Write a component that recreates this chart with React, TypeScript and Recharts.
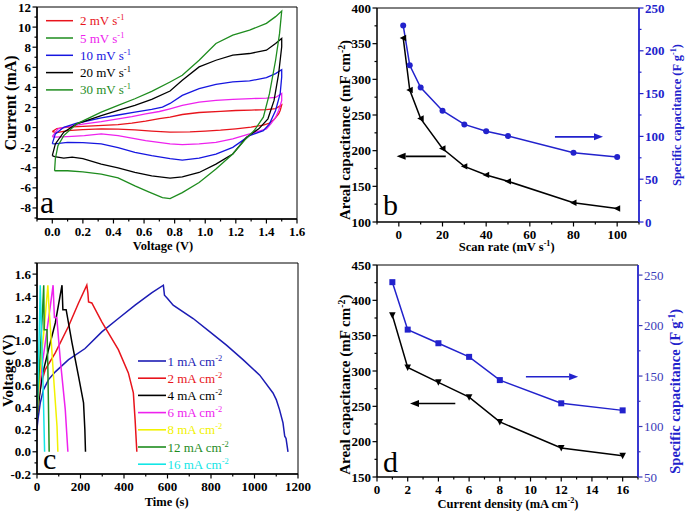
import React from 'react'
import { LineChart, Line, XAxis, YAxis, ReferenceArea, ReferenceLine } from 'recharts'

const SERIF = '"Liberation Serif", "Times New Roman", serif'

const RED = '#e8141c'
const GREEN = '#1e8c1e'
const MAGENTA = '#ee22ee'
const BLUE = '#1616e0'
const NAVY = '#1c1cb4'
const YELLOW = '#f2f200'
const CYAN = '#12e6e6'
const PBLUE = '#2222cc'

// (a) CV loops, [voltage (V), current (mA)] - anodic sweep then back
const cv2mV = [[0.0,-0.4],[0.03,-0.1],[0.1,0.05],[0.2,0.12],[0.3,0.2],[0.43,0.3],[0.52,0.45],[0.61,0.64],[0.7,0.9],[0.77,1.04],[0.85,1.3],[0.96,1.5],[1.1,1.62],[1.2,1.7],[1.3,1.74],[1.4,1.78],[1.46,1.88],[1.5,2.25],[1.49,1.7],[1.48,1.35],[1.45,0.8],[1.42,0.45],[1.38,0.25],[1.3,0.05],[1.2,-0.12],[1.1,-0.26],[1.0,-0.35],[0.9,-0.42],[0.77,-0.46],[0.65,-0.35],[0.54,-0.23],[0.43,-0.15],[0.32,-0.13],[0.2,-0.2],[0.1,-0.3],[0.03,-0.5],[0.0,-0.4]]
const cv5mV = [[0.0,-0.9],[0.037,-0.12],[0.1,0.1],[0.21,0.37],[0.32,0.6],[0.43,0.87],[0.52,1.1],[0.61,1.37],[0.7,1.6],[0.77,1.87],[0.85,2.2],[0.96,2.54],[1.07,2.7],[1.18,2.8],[1.3,2.88],[1.4,2.94],[1.46,3.0],[1.5,3.4],[1.5,2.67],[1.48,1.7],[1.46,1.0],[1.43,0.4],[1.4,-0.13],[1.29,-0.63],[1.18,-1.13],[1.07,-1.47],[0.96,-1.63],[0.85,-1.7],[0.77,-1.63],[0.61,-1.3],[0.43,-0.8],[0.32,-0.63],[0.21,-0.8],[0.1,-0.9],[0.015,-0.96],[0.0,-0.9]]
const cv10mV = [[0.0,-1.6],[0.02,-0.63],[0.075,0.03],[0.16,0.43],[0.32,0.97],[0.43,1.25],[0.54,1.53],[0.65,1.8],[0.72,2.03],[0.77,2.4],[0.85,3.2],[0.96,3.87],[1.07,4.3],[1.18,4.54],[1.29,4.64],[1.4,4.97],[1.46,5.37],[1.5,5.77],[1.5,5.04],[1.49,3.38],[1.46,1.7],[1.42,0.37],[1.38,-0.3],[1.29,-0.8],[1.18,-1.97],[1.07,-2.64],[0.96,-3.04],[0.85,-3.24],[0.77,-3.1],[0.65,-2.8],[0.54,-2.47],[0.43,-2.0],[0.32,-1.63],[0.2,-1.5],[0.1,-1.47],[0.015,-1.63],[0.0,-1.6]]
const cv20mV = [[0.0,-2.8],[0.02,-1.63],[0.075,-0.46],[0.16,0.37],[0.32,1.2],[0.43,1.7],[0.54,2.2],[0.65,2.8],[0.77,3.64],[0.85,4.7],[0.96,6.04],[1.07,6.7],[1.18,7.2],[1.29,7.37],[1.4,7.7],[1.46,8.37],[1.5,8.87],[1.5,8.04],[1.48,5.37],[1.45,2.7],[1.41,0.87],[1.35,-0.13],[1.27,-0.96],[1.18,-2.63],[1.07,-3.64],[0.96,-4.47],[0.85,-4.9],[0.77,-5.04],[0.65,-4.8],[0.54,-4.47],[0.43,-4.0],[0.32,-3.64],[0.2,-3.1],[0.13,-2.95],[0.075,-3.04],[0.015,-2.9],[0.0,-2.8]]
const cv30mV = [[0.015,-4.3],[0.02,-3.1],[0.037,-1.8],[0.075,-0.8],[0.16,0.37],[0.32,1.53],[0.43,2.2],[0.54,2.87],[0.65,3.6],[0.77,4.54],[0.85,5.2],[0.96,6.7],[1.07,8.37],[1.18,9.2],[1.29,9.7],[1.4,10.37],[1.46,11.04],[1.5,11.6],[1.486,9.37],[1.46,6.7],[1.42,3.37],[1.38,1.04],[1.32,-0.3],[1.265,-1.13],[1.18,-2.63],[1.07,-4.13],[0.96,-5.47],[0.85,-6.48],[0.77,-7.08],[0.72,-6.98],[0.63,-6.4],[0.54,-5.8],[0.43,-5.0],[0.32,-4.64],[0.2,-4.4],[0.1,-4.3],[0.015,-4.3]]

const cvVoltTicks = [-0.1,0,0.1,0.2,0.3,0.4,0.5,0.6,0.7,0.8,0.9,1.0,1.1,1.2,1.3,1.4,1.5,1.6]
const cvVoltMajor = [0,0.2,0.4,0.6,0.8,1.0,1.2,1.4,1.6]
const cvCurrTicks = [-9,-8,-7,-6,-5,-4,-3,-2,-1,0,1,2,3,4,5,6,7,8,9,10,11,12]
const cvCurrMajor = [-8,-6,-4,-2,0,2,4,6,8,10,12]

const cvSeries = [
  { name: '2 mV', pts: cv2mV, color: RED },
  { name: '5 mV', pts: cv5mV, color: MAGENTA },
  { name: '10 mV', pts: cv10mV, color: BLUE },
  { name: '20 mV', pts: cv20mV, color: '#000' },
  { name: '30 mV', pts: cv30mV, color: GREEN },
]
const cvLegend = [
  { label: '2', line: RED, text: RED },
  { label: '5', line: GREEN, text: MAGENTA },
  { label: '10', line: BLUE, text: BLUE },
  { label: '20', line: '#000', text: '#000' },
  { label: '30', line: GREEN, text: GREEN },
]

// (b) scan rate dependence
const scanRate = [2, 5, 10, 20, 30, 40, 50, 80, 100]
const arealScan = [358, 285, 245, 203, 178, 166, 157, 127, 119]
const specificScan = [229.6, 183, 157, 130, 114, 106, 100.5, 81, 76]
const scanTicks = [-10,0,10,20,30,40,50,60,70,80,90,100,110]
const scanMajor = [0,20,40,60,80,100]
const arealScanTicks = [100,125,150,175,200,225,250,275,300,325,350,375,400]
const arealScanMajor = [100,150,200,250,300,350,400]
const specScanTicks = [0,25,50,75,100,125,150,175,200,225,250]
const specScanMajor = [0,50,100,150,200,250]

// (c) galvanostatic charge/discharge, [time (s), voltage (V)]
const gcd1 = [[0,0.21],[5,0.3],[15,0.44],[30,0.56],[53,0.65],[84,0.72],[145,0.83],[221,0.93],[298,1.08],[374,1.2],[451,1.32],[527,1.43],[581,1.5],[586,1.41],[600,1.38],[626,1.32],[718,1.2],[795,1.08],[871,0.96],[947,0.83],[1024,0.69],[1085,0.53],[1100,0.47],[1115,0.38],[1131,0.26],[1139,0.14],[1145,0.12],[1154,0.0]]
const gcd2 = [[2,0.35],[10,0.5],[20,0.62],[38,0.74],[84,0.89],[145,1.13],[191,1.34],[229,1.5],[234,1.43],[237,1.35],[252,1.34],[298,1.17],[374,0.92],[420,0.71],[443,0.53],[451,0.29],[459,0.0]]
const gcd4 = [[0,0.3],[8,0.45],[23,0.68],[53,0.92],[84,1.16],[115,1.5],[119,1.28],[134,1.28],[161,0.98],[191,0.68],[214,0.44],[220,0.2],[223,0.0]]
const gcd6 = [[0,0.35],[8,0.53],[25,0.8],[38,0.98],[61,1.31],[74,1.5],[80,1.21],[91,1.21],[107,0.83],[130,0.38],[142,0.0]]
const gcd8 = [[0,0.3],[6,0.5],[20,0.85],[35,1.15],[50,1.5],[55,1.3],[61,1.13],[76,0.68],[92,0.23],[96,0.0]]
const gcd12 = [[0,0.3],[5,0.55],[15,0.9],[25,1.25],[31,1.5],[33,1.1],[46,1.1],[50,0.75],[56,0.0]]
const gcd16 = [[0,0.3],[4,0.6],[10,1.05],[15,1.5],[20,1.1],[28,0.6],[35,0.0]]

const timeTicks = [0,100,200,300,400,500,600,700,800,900,1000,1100,1200]
const timeMajor = [0,200,400,600,800,1000,1200]
const gcdVoltTicks = [-0.2,-0.1,0,0.1,0.2,0.3,0.4,0.5,0.6,0.7,0.8,0.9,1.0,1.1,1.2,1.3,1.4,1.5,1.6,1.7]
const gcdVoltMajor = [-0.2,0,0.2,0.4,0.6,0.8,1.0,1.2,1.4,1.6]

const gcdSeries = [
  { label: '1', pts: gcd1, color: NAVY },
  { label: '2', pts: gcd2, color: RED },
  { label: '4', pts: gcd4, color: '#000' },
  { label: '6', pts: gcd6, color: MAGENTA },
  { label: '8', pts: gcd8, color: YELLOW },
  { label: '12', pts: gcd12, color: GREEN },
  { label: '16', pts: gcd16, color: CYAN },
]

// (d) current density dependence
const currentDensity = [1, 2, 4, 6, 8, 12, 16]
const arealCurrent = [379, 305, 284, 263, 228, 191, 180]
const specificCurrent = [243, 196, 182.5, 169, 146, 123, 116]
const cdTicks = [0,1,2,3,4,5,6,7,8,9,10,11,12,13,14,15,16,17]
const cdMajor = [0,2,4,6,8,10,12,14,16]
const arealCdTicks = [150,175,200,225,250,275,300,325,350,375,400,425,450]
const arealCdMajor = [150,200,250,300,350,400,450]
const specCdTicks = [50,75,100,125,150,175,200,225,250]
const specCdMajor = [50,100,150,200,250]

const scanTable = scanRate.map((x, i) => ({ x, areal: arealScan[i], specific: specificScan[i] }))
const cdTable = currentDensity.map((x, i) => ({ x, areal: arealCurrent[i], specific: specificCurrent[i] }))
const toXY = (pts: number[][]) => pts.map(([x, y]) => ({ x, y }))

type TickOpts = { side: 'bottom' | 'left' | 'right'; majors: number[]; fmt?: (v: number) => string; color?: string; size?: number; weight?: string | number }

function tickRenderer(o: TickOpts) {
  const color = o.color ?? '#000'
  const size = o.size ?? 13
  const weight = o.weight ?? 'bold'
  return (props: any) => {
    const { x, y, payload, index } = props
    const v = payload.value as number
    const major = o.majors.some(m => Math.abs(m - v) < 1e-6)
    const len = major ? 4.5 : 2.5
    const label = major ? (o.fmt ? o.fmt(v) : String(v)) : null
    const txt = { fill: color, fontSize: size, fontWeight: weight, fontFamily: SERIF }
    if (o.side === 'bottom') {
      return (
        <g key={`t${index}`}>
          <line x1={x} y1={y} x2={x} y2={y + len} stroke={color} strokeWidth={1.2} />
          {label && <text x={x} y={y + 16.5} textAnchor="middle" {...txt}>{label}</text>}
        </g>
      )
    }
    if (o.side === 'left') {
      return (
        <g key={`t${index}`}>
          <line x1={x} y1={y} x2={x - len} y2={y} stroke={color} strokeWidth={1.2} />
          {label && <text x={x - 6} y={y + 4.5} textAnchor="end" {...txt}>{label}</text>}
        </g>
      )
    }
    return (
      <g key={`t${index}`}>
        <line x1={x} y1={y} x2={x + len} y2={y} stroke={color} strokeWidth={1.2} />
        {label && <text x={x + 6} y={y + 4.5} textAnchor="start" {...txt}>{label}</text>}
      </g>
    )
  }
}

const axisBase = { tickLine: false, tickSize: 0, tickMargin: 0, interval: 0 as const, allowDataOverflow: true }
const blackAxis = { stroke: '#000', strokeWidth: 1.5 }

const Arrow = (props: any) => {
  const { x1, y1, x2, y2, stroke } = props
  const ang = Math.atan2(y2 - y1, x2 - x1)
  const L = 9, W = 3.5
  const bx = x2 - L * Math.cos(ang), by = y2 - L * Math.sin(ang)
  const px = -Math.sin(ang) * W, py = Math.cos(ang) * W
  return (
    <g>
      <line x1={x1} y1={y1} x2={bx} y2={by} stroke={stroke} strokeWidth={1.6} />
      <polygon points={`${x2},${y2} ${bx + px},${by + py} ${bx - px},${by - py}`} fill={stroke} />
    </g>
  )
}

const TriLeft = (p: any) => (
  <path key={`tl${p.index}`} d={`M${p.cx - 3.5},${p.cy} L${p.cx + 3},${p.cy - 3.2} L${p.cx + 3},${p.cy + 3.2} Z`} fill="#000" />
)
const TriDown = (p: any) => (
  <path key={`td${p.index}`} d={`M${p.cx - 3.3},${p.cy - 3} L${p.cx + 3.3},${p.cy - 3} L${p.cx},${p.cy + 3.5} Z`} fill="#000" />
)
const Circle = (p: any) => <circle key={`c${p.index}`} cx={p.cx} cy={p.cy} r={3} fill={PBLUE} />
const Square = (p: any) => <rect key={`s${p.index}`} x={p.cx - 3} y={p.cy - 3} width={6} height={6} fill={PBLUE} />

const tf = { fontFamily: SERIF, fontWeight: 'bold' as const }

function Sup({ s }: { s: string }) {
  return <tspan dy={-5} fontSize="0.65em">{s}</tspan>
}

function Overlay() {
  return (
    <svg width={685} height={512} style={{ position: 'absolute', left: 0, top: 0, pointerEvents: 'none' }}>
      {/* axis titles */}
      <text x={15.6} y={103} textAnchor="middle" fontSize={16} transform="rotate(-90 15.6 103)" {...tf}>Current (mA)</text>
      <text x={163} y={249.5} textAnchor="middle" fontSize={12.5} {...tf}>Voltage (V)</text>

      <text x={350} y={130} textAnchor="middle" fontSize={15} transform="rotate(-90 350 130)" {...tf}>
        Areal capacitance (mF cm<Sup s="-2" /><tspan dy={5}>)</tspan>
      </text>
      <text x={681} y={115} textAnchor="middle" fontSize={12.5} fill={PBLUE} transform="rotate(-90 681 115)" {...tf}>
        Specific capacitance (F g<Sup s="-1" /><tspan dy={5}>)</tspan>
      </text>
      <text x={506.7} y={251} textAnchor="middle" fontSize={12.5} {...tf}>
        Scan rate (mV s<Sup s="-1" /><tspan dy={5}>)</tspan>
      </text>

      <text x={13.5} y={370.8} textAnchor="middle" fontSize={15} transform="rotate(-90 13.5 370.8)" {...tf}>Voltage (V)</text>
      <text x={166.7} y={506} textAnchor="middle" fontSize={12.5} {...tf}>Time (s)</text>

      <text x={350} y={384.7} textAnchor="middle" fontSize={15} transform="rotate(-90 350 384.7)" {...tf}>
        Areal capacitance (mF cm<Sup s="-2" /><tspan dy={5}>)</tspan>
      </text>
      <text x={680} y={391.3} textAnchor="middle" fontSize={14.5} fill={PBLUE} transform="rotate(-90 680 391.3)" {...tf}>
        Specific capacitance (F g<Sup s="-1" /><tspan dy={5}>)</tspan>
      </text>
      <text x={508} y={507.5} textAnchor="middle" fontSize={12.5} {...tf}>
        Current density (mA cm<Sup s="-2" /><tspan dy={5}>)</tspan>
      </text>

      {/* panel letters */}
      <text x={40} y={213} fontSize={32} fontFamily={SERIF}>a</text>
      <text x={383} y={215} fontSize={30} fontFamily={SERIF}>b</text>
      <text x={43} y={469} fontSize={30} fontFamily={SERIF}>c</text>
      <text x={383} y={472} fontSize={30} fontFamily={SERIF}>d</text>

      {/* legend a */}
      {cvLegend.map((e, i) => {
        const cy = 20.7 + 17.3 * i
        return (
          <g key={e.label}>
            <line x1={46} x2={73} y1={cy} y2={cy} stroke={e.line} strokeWidth={1.5} />
            <text x={80} y={cy + 4.5} fontSize={13} fill={e.text} fontFamily={SERIF}>
              {e.label} mV s<Sup s="-1" />
            </text>
          </g>
        )
      })}

      {/* legend c */}
      {gcdSeries.map((e, i) => {
        const cy = 361 + 17.2 * i
        return (
          <g key={e.label}>
            <line x1={138} x2={166} y1={cy} y2={cy} stroke={e.color} strokeWidth={1.6} />
            <text x={167.5} y={cy + 4.5} fontSize={13} fill={e.color} fontFamily={SERIF}>
              {e.label} mA cm<Sup s="-2" />
            </text>
          </g>
        )
      })}
    </svg>
  )
}

export default function App() {
  return (
    <div style={{ position: 'absolute', left: 0, top: 0, width: 685, height: 512, background: '#fff' }}>
      {/* a */}
      <div style={{ position: 'absolute', left: 0, top: 0 }}>
        <LineChart width={340} height={255} margin={{ top: 7, right: 43, bottom: 0, left: 0 }}>
          <XAxis type="number" dataKey="x" domain={[-0.1, 1.6]} ticks={cvVoltTicks} height={36} axisLine={blackAxis}
            tick={tickRenderer({ side: 'bottom', majors: cvVoltMajor, fmt: v => v.toFixed(1) })} {...axisBase} />
          <YAxis type="number" domain={[-9.1, 12]} ticks={cvCurrTicks} width={37} axisLine={blackAxis}
            tick={tickRenderer({ side: 'left', majors: cvCurrMajor })} {...axisBase} />
          <ReferenceArea x1={-0.1} x2={1.6} y1={-9.1} y2={12} fill="none" stroke="#000" strokeWidth={1} ifOverflow="visible" />
          {cvSeries.map(s => (
            <Line key={s.name} data={toXY(s.pts)} dataKey="y" type="linear" stroke={s.color} strokeWidth={1.3}
              dot={false} activeDot={false} isAnimationActive={false} />
          ))}
        </LineChart>
      </div>

      {/* b */}
      <div style={{ position: 'absolute', left: 340, top: 0 }}>
        <LineChart width={345} height={255} data={scanTable} margin={{ top: 8, right: 0, bottom: 0, left: 0 }}>
          <XAxis type="number" dataKey="x" domain={[-10, 110]} ticks={scanTicks} height={33} axisLine={blackAxis}
            tick={tickRenderer({ side: 'bottom', majors: scanMajor })} {...axisBase} />
          <YAxis yAxisId="l" type="number" domain={[100, 400]} ticks={arealScanTicks} width={37} axisLine={blackAxis}
            tick={tickRenderer({ side: 'left', majors: arealScanMajor })} {...axisBase} />
          <YAxis yAxisId="r" orientation="right" type="number" domain={[0, 250]} ticks={specScanTicks} width={46}
            axisLine={{ stroke: PBLUE, strokeWidth: 1.8 }}
            tick={tickRenderer({ side: 'right', majors: specScanMajor, color: PBLUE })} {...axisBase} />
          <ReferenceLine yAxisId="l" y={400} stroke="#000" strokeWidth={1} ifOverflow="visible" />
          <Line yAxisId="l" dataKey="areal" type="linear" stroke="#000" strokeWidth={1.5} dot={TriLeft}
            activeDot={false} isAnimationActive={false} />
          <Line yAxisId="r" dataKey="specific" type="linear" stroke={PBLUE} strokeWidth={1.5} dot={Circle}
            activeDot={false} isAnimationActive={false} />
          <ReferenceLine yAxisId="l" segment={[{ x: 21.5, y: 192 }, { x: -1, y: 192 }]} stroke="#000" shape={Arrow} ifOverflow="visible" />
          <ReferenceLine yAxisId="r" segment={[{ x: 71.5, y: 99.5 }, { x: 93.5, y: 99.5 }]} stroke={PBLUE} shape={Arrow} ifOverflow="visible" />
        </LineChart>
      </div>

      {/* c */}
      <div style={{ position: 'absolute', left: 0, top: 255 }}>
        <LineChart width={340} height={257} margin={{ top: 8, right: 42, bottom: 0, left: 0 }}>
          <XAxis type="number" dataKey="x" domain={[0, 1200]} ticks={timeTicks} height={38} axisLine={blackAxis}
            tick={tickRenderer({ side: 'bottom', majors: timeMajor })} {...axisBase} />
          <YAxis type="number" domain={[-0.2, 1.7]} ticks={gcdVoltTicks} width={37} axisLine={blackAxis}
            tick={tickRenderer({ side: 'left', majors: gcdVoltMajor, fmt: v => v.toFixed(1) })} {...axisBase} />
          <ReferenceArea x1={0} x2={1200} y1={-0.2} y2={1.7} fill="none" stroke="#000" strokeWidth={1} ifOverflow="visible" />
          {gcdSeries.map(s => (
            <Line key={s.label} data={toXY(s.pts)} dataKey="y" type="linear" stroke={s.color} strokeWidth={1.5}
              dot={false} activeDot={false} isAnimationActive={false} />
          ))}
        </LineChart>
      </div>

      {/* d */}
      <div style={{ position: 'absolute', left: 340, top: 255 }}>
        <LineChart width={345} height={257} data={cdTable} margin={{ top: 10, right: 0, bottom: 0, left: 0 }}>
          <XAxis type="number" dataKey="x" domain={[0, 17]} ticks={cdTicks} height={35} axisLine={blackAxis}
            tick={tickRenderer({ side: 'bottom', majors: cdMajor })} {...axisBase} />
          <YAxis yAxisId="l" type="number" domain={[150, 450]} ticks={arealCdTicks} width={37} axisLine={blackAxis}
            tick={tickRenderer({ side: 'left', majors: arealCdMajor })} {...axisBase} />
          <YAxis yAxisId="r" orientation="right" type="number" domain={[50, 260]} ticks={specCdTicks} width={47}
            axisLine={{ stroke: PBLUE, strokeWidth: 1.8 }}
            tick={tickRenderer({ side: 'right', majors: specCdMajor, color: '#3a3ab8', weight: 'normal' })} {...axisBase} />
          <ReferenceLine yAxisId="l" y={450} stroke="#000" strokeWidth={1} ifOverflow="visible" />
          <Line yAxisId="l" dataKey="areal" type="linear" stroke="#000" strokeWidth={1.5} dot={TriDown}
            activeDot={false} isAnimationActive={false} />
          <Line yAxisId="r" dataKey="specific" type="linear" stroke={PBLUE} strokeWidth={1.5} dot={Square}
            activeDot={false} isAnimationActive={false} />
          <ReferenceLine yAxisId="l" segment={[{ x: 5.1, y: 254 }, { x: 2.15, y: 254 }]} stroke="#000" shape={Arrow} ifOverflow="visible" />
          <ReferenceLine yAxisId="r" segment={[{ x: 9.7, y: 149.3 }, { x: 13.1, y: 149.3 }]} stroke={PBLUE} shape={Arrow} ifOverflow="visible" />
        </LineChart>
      </div>

      <Overlay />
    </div>
  )
}
